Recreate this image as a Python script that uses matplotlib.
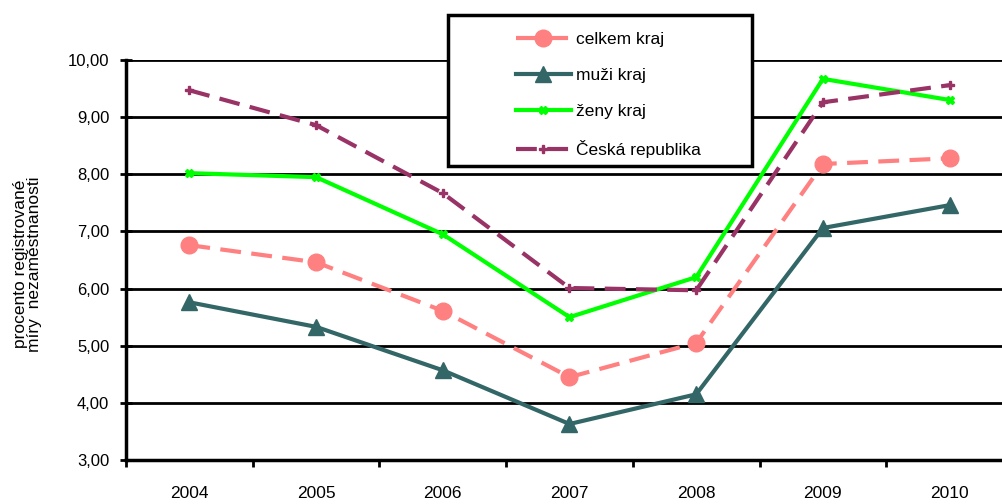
import matplotlib.pyplot as plt
import numpy as np
from matplotlib.patches import Rectangle

plt.rcParams['font.family'] = ['Liberation Sans', 'DejaVu Sans']

years = ['2004', '2005', '2006', '2007', '2008', '2009', '2010']
celkem = [6.76, 6.46, 5.61, 4.45, 5.05, 8.18, 8.28]
muzi = [5.76, 5.33, 4.57, 3.63, 4.15, 7.06, 7.46]
zeny = [8.02, 7.95, 6.95, 5.50, 6.20, 9.67, 9.30]
cr = [9.47, 8.86, 7.67, 6.01, 5.97, 9.26, 9.56]
yticks = [3, 4, 5, 6, 7, 8, 9, 10]

W, H = 1003, 504
fig = plt.figure(figsize=(W / 100, H / 100), dpi=100)
# plot area runs past the right edge of the picture
ax = fig.add_axes([126 / W, 44 / H, 887 / W, 400 / H])

x = np.arange(len(years))
ax.plot(x, celkem, color='#FF8080', lw=3, dashes=(5, 2.5), marker='o', ms=12,
        label='celkem kraj', zorder=4)
ax.plot(x, muzi, color='#336666', lw=3, marker='^', ms=11,
        label='muži kraj', zorder=4)
ax.plot(x, zeny, color='#00FF00', lw=3, marker='X', ms=6,
        label='ženy kraj', zorder=4)
ax.plot(x, cr, color='#993366', lw=3, dashes=(5, 2.5), marker='P', ms=6,
        label='Česká republika', zorder=4)

ax.set_xlim(-0.5, 6.5)
ax.set_ylim(3, 10)
ax.set_yticks(yticks)
ax.set_yticklabels([f'{v:.2f}'.replace('.', ',') for v in yticks])
ax.yaxis.grid(True, color='black', lw=2)
ax.set_axisbelow(True)

ax.set_xticks(np.arange(-0.5, 7, 1))
ax.set_xticklabels([])
ax.set_xticks(x, minor=True)
ax.set_xticklabels(years, minor=True, fontsize=12.5)
ax.tick_params(axis='x', which='major', length=5, width=2, direction='out')
ax.tick_params(axis='x', which='minor', length=0, pad=19)
ax.tick_params(axis='y', length=8, width=2, direction='inout', labelsize=12, pad=8)

for s in ['top', 'right']:
    ax.spines[s].set_visible(False)
for s in ['left', 'bottom']:
    ax.spines[s].set_linewidth(2.5)

ax.set_ylabel('procento registrované\nmíry  nezaměstnanosti', fontsize=12.5,
              linespacing=0.9)
ax.yaxis.set_label_coords(-84 / 887, 0.49)

# legend box
fig.patches.append(Rectangle((448 / W, 1 - 166 / H), 304 / W, 151 / H,
                             transform=fig.transFigure, facecolor='white',
                             edgecolor='black', lw=2.5, zorder=3))
leg = fig.legend(loc='upper left', bbox_to_anchor=(500 / W, 1 - 16 / H),
                 frameon=False, fontsize=12.5, handlelength=3.2,
                 handletextpad=0.3, labelspacing=1.2)
leg.set_zorder(6)

fig.savefig('out.png', dpi=100)
